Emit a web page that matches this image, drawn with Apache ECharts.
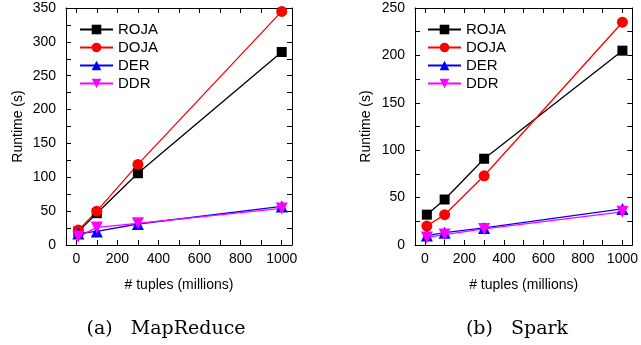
<!DOCTYPE html>
<html><head><meta charset="utf-8">
<script src="https://cdn.jsdelivr.net/npm/echarts@6/dist/echarts.min.js"></script>
<style>html,body{margin:0;padding:0;background:#fff}#c{width:641px;height:345px}</style>
</head><body><div id="c"></div>
<script>
const tuples = [10, 100, 300, 1000];
const seriesNames = ['ROJA', 'DOJA', 'DER', 'DDR'];
const mrROJA = [20, 47, 106, 285];
const mrDOJA = [22, 50, 119, 345];
const mrDER = [17, 20, 31, 57];
const mrDDR = [12, 26, 32, 54];
const spROJA = [32, 48, 91, 205];
const spDOJA = [20, 32, 73, 235];
const spDER = [10, 13, 18, 38];
const spDDR = [8, 11, 17, 35];
const xTickLabels = [0, 200, 400, 600, 800, 1000];
const xTickMarks = [0, 100, 200, 300, 400, 500, 600, 700, 800, 900, 1000];
const yMaxes = [350, 250];
const captionTags = ['(a)', '(b)'];
const captionNames = ['MapReduce', 'Spark'];

const colors = {ROJA:'#000000', DOJA:'#ff0000', DER:'#0000ff', DDR:'#ff00ff'};
const symbols = {ROJA:'rect', DOJA:'circle', DER:'triangle', DDR:'path://M0,0 L10,0 L5,9 Z'};
const sizes = {ROJA:10, DOJA:11, DER:12, DDR:12};

const font = 'Liberation Sans';
const grids = [
  {left:66, top:8, width:226, height:237},
  {left:415, top:8, width:224, height:237}
];
const dataSets = [[mrROJA, mrDOJA, mrDER, mrDDR],[spROJA, spDOJA, spDER, spDDR]];

const xAxes = [], yAxes = [], series = [], legends = [];
const lineSt = {show:true, onZero:false, lineStyle:{color:'#000', width:1}};

grids.forEach((g, gi) => {
  const xb = {gridIndex: gi, type:'value', min:-50, max:1050, splitLine:{show:false}};
  xAxes.push(Object.assign({}, xb, {
    position:'bottom',
    name:'# tuples (millions)', nameLocation:'middle', nameGap:33,
    nameTextStyle:{fontFamily:font, fontSize:14, color:'#000'},
    axisLine:lineSt,
    axisTick:{inside:true, length:5, customValues:xTickMarks, lineStyle:{color:'#000'}},
    axisLabel:{customValues:xTickLabels, formatter:v => String(v), fontFamily:font, fontSize:14, color:'#000', margin:7}
  }));
  xAxes.push(Object.assign({}, xb, {
    position:'top',
    axisLine:lineSt,
    axisTick:{inside:true, length:5, customValues:xTickMarks, lineStyle:{color:'#000'}},
    axisLabel:{show:false}
  }));
  const yb = {gridIndex: gi, type:'value', min:0, max:yMaxes[gi], interval:50, splitLine:{show:false}};
  yAxes.push(Object.assign({}, yb, {
    position:'left',
    name:'Runtime (s)', nameLocation:'middle', nameGap: gi===0 ? 41 : 42,
    nameTextStyle:{fontFamily:font, fontSize:14, color:'#000'},
    axisLine:lineSt,
    axisTick:{show:true, inside:true, length:5, lineStyle:{color:'#000'}},
    minorTick:{show:true, splitNumber:2, length:5, lineStyle:{color:'#000'}},
    axisLabel:{fontFamily:font, fontSize:14, color:'#000', margin:10}
  }));
  yAxes.push(Object.assign({}, yb, {
    position:'right',
    axisLine:lineSt,
    axisTick:{show:true, inside:true, length:5, lineStyle:{color:'#000'}},
    minorTick:{show:true, splitNumber:2, length:5, lineStyle:{color:'#000'}},
    axisLabel:{show:false}
  }));
  seriesNames.forEach((n, si) => {
    series.push({
      name:n, type:'line', xAxisIndex: gi*2, yAxisIndex: gi*2,
      data: tuples.map((x, i) => [x, dataSets[gi][si][i]]),
      symbol: symbols[n], symbolSize: sizes[n],
      lineStyle:{color:colors[n], width:1.3},
      itemStyle:{color:colors[n]},
      emphasis:{disabled:true}, animation:false
    });
  });
  legends.push({
    orient:'vertical', left: gi===0 ? 79 : 427, top: 22, padding:0,
    itemWidth:33, itemHeight:12, itemGap:3,
    textStyle:{fontFamily:font, fontSize:15, color:'#000'},
    data: seriesNames
  });
});

const capCenters = [166, 517];
const graphics = capCenters.map((cx, i) => ({
  type:'text', x: cx, y: 329,
  style:{
    text: captionTags[i] + '   ' + captionNames[i],
    font: '19px "DejaVu Serif"', fill:'#000',
    textAlign:'center', textVerticalAlign:'middle'
  }
}));

const chart = echarts.init(document.getElementById('c'), null, {renderer:'canvas'});
chart.setOption({
  animation:false,
  backgroundColor:'#fff',
  legend: legends,
  grid: grids,
  xAxis: xAxes,
  yAxis: yAxes,
  series: series,
  graphic: graphics
});
</script></body></html>
